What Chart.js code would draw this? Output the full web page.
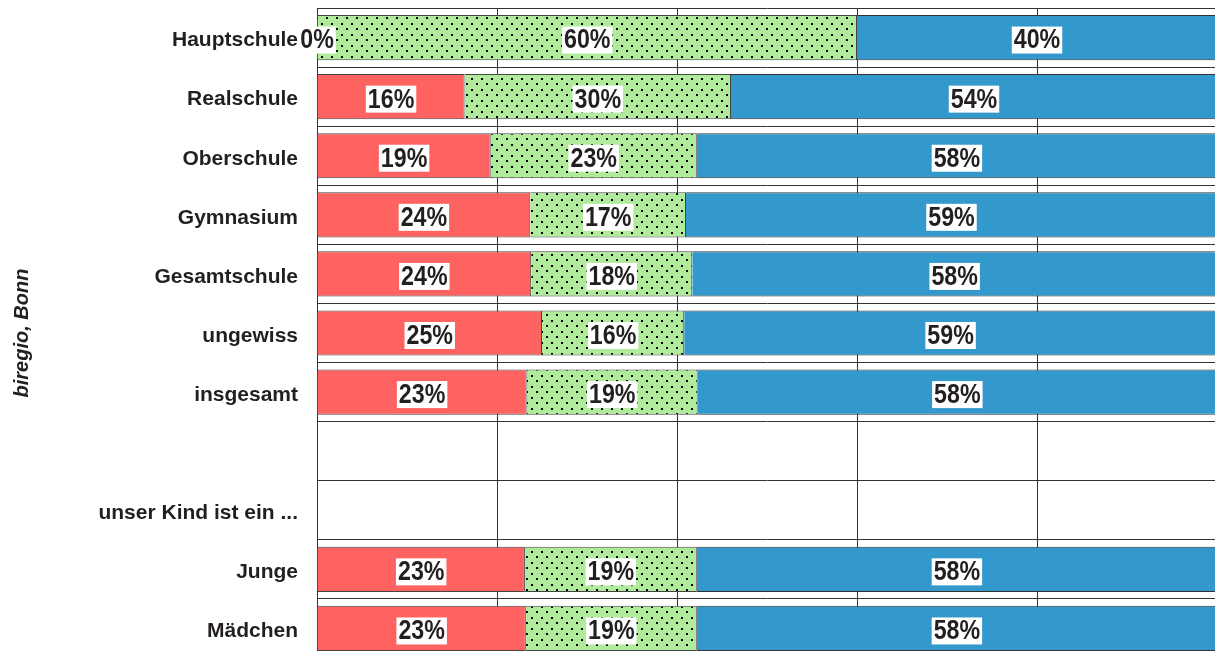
<!DOCTYPE html>
<html>
<head>
<meta charset="utf-8">
<script src="https://cdn.jsdelivr.net/npm/chart.js@4/dist/chart.umd.min.js"></script>
<style>
    body { margin: 0; overflow: hidden; background: #fff; }
    #wrap { position: absolute; left: 0; top: 0; }
</style>
</head>
<body>
<div id="wrap"><canvas id="grafico" width="1220" height="672"></canvas></div>
<script>
const kategorien = ["Hauptschule", "Realschule", "Oberschule", "Gymnasium", "Gesamtschule",
    "ungewiss", "insgesamt", "", "unser Kind ist ein ...", "Junge", "Mädchen"];

// Anteile in Prozent (rot / grün gepunktet / blau)
const anteilRot   = [0,  16.4, 19.3, 23.7, 23.8, 25.0, 23.3, null, null, 23.1, 23.2];
const anteilGruen = [60, 29.6, 22.9, 17.3, 17.9, 15.8, 19.0, null, null, 19.1, 19.0];
const anteilBlau  = [40, 54.0, 57.8, 59.0, 58.3, 59.2, 57.7, null, null, 57.8, 57.8];

const achsenTitel = "biregio, Bonn";
const textFarbe = "#231F20";

function punktMuster() {
    const c = document.createElement("canvas");
    c.width = 10;
    c.height = 11;
    const g = c.getContext("2d");
    g.fillStyle = "#B0EA9B";
    g.fillRect(0, 0, 10, 11);
    g.fillStyle = "#000";
    g.fillRect(1, 1, 2, 2);
    g.fillRect(6, 6, 2, 2);
    return g.createPattern(c, "repeat");
}

const etiketten = {
    id: "etiketten",
    afterDatasetsDraw(chart) {
        const ctx = chart.ctx;
        ctx.save();
        ctx.font = "bold 27px 'Liberation Sans', Arial, sans-serif";
        ctx.textAlign = "center";
        ctx.textBaseline = "middle";
        chart.data.datasets.forEach((ds, i) => {
            const meta = chart.getDatasetMeta(i);
            meta.data.forEach((bar, j) => {
                const wert = ds.data[j];
                if (wert === null || wert === undefined) return;
                const text = Math.round(wert) + "%";
                const cx = (bar.x + bar.base) / 2;
                const cy = bar.y + 2.5;
                const sx = 0.86;
                const w = ctx.measureText(text).width * sx + 4;
                ctx.fillStyle = "#fff";
                ctx.fillRect(cx - w / 2, cy - 13.5, w, 27);
                ctx.save();
                ctx.translate(cx, cy + 1);
                ctx.scale(sx, 1);
                ctx.fillStyle = textFarbe;
                ctx.fillText(text, 0, 0);
                ctx.restore();
            });
        });
        ctx.restore();
    }
};

const ctx = document.getElementById("grafico");

new Chart(ctx, {
    type: "bar",
    data: {
        labels: kategorien,
        datasets: [
            { data: anteilRot, backgroundColor: "#FF6361", borderColor: "#444", borderWidth: 1 },
            { data: anteilGruen, backgroundColor: punktMuster(), borderColor: "#444", borderWidth: 1 },
            { data: anteilBlau, backgroundColor: "#3398CB", borderColor: "#333", borderWidth: 1 }
        ]
    },
    options: {
        indexAxis: "y",
        responsive: false,
        animation: false,
        layout: { padding: { top: 8, bottom: 14, right: 3, left: 0 } },
        datasets: { bar: { categoryPercentage: 1, barPercentage: 0.765 } },
        plugins: {
            legend: { display: false },
            tooltip: { enabled: false }
        },
        scales: {
            x: {
                stacked: true,
                min: 0,
                max: 100,
                ticks: { display: false, stepSize: 20 },
                grid: { color: "#333", lineWidth: 1, drawTicks: false },
                border: { display: false },
                afterFit: s => {
                    s.height = 0;
                    s.paddingLeft = 0;
                    s.paddingRight = 0;
                }
            },
            y: {
                stacked: true,
                ticks: {
                    color: textFarbe,
                    padding: 19,
                    labelOffset: 3,
                    font: { family: "'Liberation Sans', Arial, sans-serif", size: 21, weight: "bold" }
                },
                grid: { color: "#333", lineWidth: 1, drawTicks: false, offset: true },
                border: { color: "#333", width: 1 },
                title: {
                    display: true,
                    text: achsenTitel,
                    color: textFarbe,
                    padding: { top: 10, bottom: 0 },
                    font: { family: "'Liberation Sans', Arial, sans-serif", size: 20, weight: "bold", style: "italic" }
                },
                afterFit: s => {
                    s.width = 317;
                    s.paddingTop = 0;
                    s.paddingBottom = 0;
                }
            }
        }
    },
    plugins: [etiketten]
});
</script>
</body>
</html>
